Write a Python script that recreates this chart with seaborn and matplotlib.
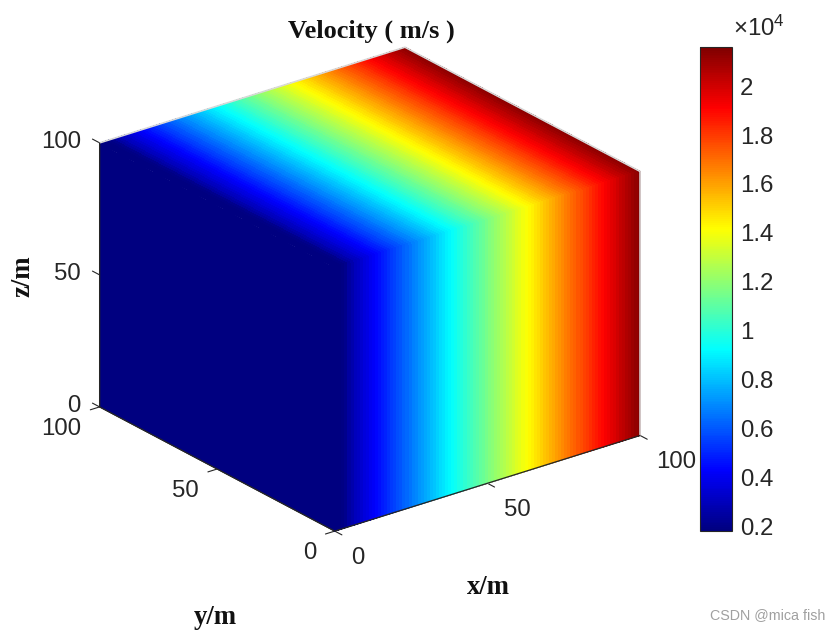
import numpy as np
import matplotlib
matplotlib.use('Agg')  # no display
import matplotlib.pyplot as plt
from matplotlib.cm import ScalarMappable
from matplotlib.colors import LinearSegmentedColormap, Normalize
from matplotlib.ticker import FuncFormatter
import seaborn as sns

x_stations = np.arange(0, 101)
velocity = [1800, 1830, 1900, 2100, 2450, 2690, 2990, 3190, 3380, 3580,
            3780, 3980, 4180, 4370, 4570, 4770, 4970, 5170, 5360, 5560,
            5760, 5960, 6160, 6350, 6550, 6750, 6950, 7150, 7340, 7540,
            7740, 7940, 8140, 8330, 8530, 8730, 8930, 9130, 9320, 9520,
            9720, 9920, 10120, 10310, 10510, 10710, 10910, 11110, 11300, 11500,
            11700, 11900, 12100, 12290, 12490, 12690, 12890, 13090, 13280, 13480,
            13680, 13880, 14080, 14270, 14470, 14670, 14870, 15070, 15260, 15460,
            15660, 15860, 16060, 16250, 16450, 16650, 16850, 17050, 17240, 17440,
            17640, 17840, 18040, 18230, 18430, 18630, 18830, 19030, 19220, 19420,
            19620, 19820, 20020, 20210, 20410, 20610, 20810, 21010, 21200, 21400,
            21600]
axis_ticks = [0, 50, 100]
cbar_ticks = [2000, 4000, 6000, 8000, 10000, 12000, 14000, 16000, 18000, 20000]
v_range = (1800, 21600)

sns.set_theme(style='white', rc={'xtick.bottom': True, 'ytick.left': True})
plt.rcParams['font.family'] = ['Liberation Sans', 'DejaVu Sans']
plt.rcParams['mathtext.default'] = 'regular'

# MATLAB flavour of jet: matplotlib's own has its yellow and red slightly later
cmap = LinearSegmentedColormap.from_list('matlab_jet', [
    (0, (0, 0, 0.5)), (0.125, (0, 0, 1)), (0.375, (0, 1, 1)),
    (0.625, (1, 1, 0)), (0.875, (1, 0, 0)), (1, (0.5, 0, 0))], N=256)
norm = Normalize(*v_range)
line_color = '#262626'
serif = {'family': 'Liberation Serif', 'weight': 'bold', 'color': '#111111'}

fig = plt.figure(figsize=(8.4, 6.3), dpi=100)

size = 0.98
ax = fig.add_axes([361.5 / 840 - size * 630 / 840 / 2, 1 - 297.5 / 630 - size / 2,
                   size * 630 / 840, size], projection='3d', computed_zorder=False)
ax.set_proj_type('ortho')
ax.view_init(elev=24, azim=-127.6)
ax.set_box_aspect((1, 1, 0.75), zoom=0.97)
ax.patch.set_alpha(0)

v = np.array(velocity, dtype=float)
xs = x_stations
lo, hi = xs[0], xs[-1]

# front face (y = 0) and top face carry the x profile, left face is x = 0
X, Z = np.meshgrid(xs, [lo, hi])
colors = cmap(norm(np.tile(v, (2, 1))))
ax.plot_surface(X, np.full_like(X, lo), Z, facecolors=colors, rstride=1, cstride=1,
                shade=False, linewidth=0, antialiased=False, zorder=1)
X, Y = np.meshgrid(xs, [lo, hi])
ax.plot_surface(X, Y, np.full_like(X, hi), facecolors=colors, rstride=1, cstride=1,
                shade=False, linewidth=0, antialiased=False, zorder=1)
Y, Z = np.meshgrid([lo, hi], [lo, hi])
ax.plot_surface(np.full_like(Y, lo), Y, Z, facecolors=cmap(norm(np.full((2, 2), v[0]))),
                rstride=1, cstride=1, shade=False, linewidth=0, antialiased=False, zorder=1)

# light box edges behind the cube, dark axis edges in front of it
ax.plot([lo, lo, hi, hi, hi], [hi, hi, hi, lo, lo], [hi, hi, hi, hi, lo],
        color='#d9d9d9', lw=1.2, zorder=2)
ax.plot([lo, lo, lo, hi], [hi, hi, lo, lo], [hi, lo, lo, lo], color=line_color, lw=0.9, zorder=3)

ax.set_xlim(lo, hi)
ax.set_ylim(lo, hi)
ax.set_zlim(lo, hi)
ax.set_xticks(axis_ticks)
ax.set_yticks(axis_ticks)
ax.set_zticks(axis_ticks)
ax.grid(False)
for axis in (ax.xaxis, ax.yaxis, ax.zaxis):
    axis.set_pane_color((1, 1, 1, 0))
    axis.line.set_color(line_color)
    axis.line.set_linewidth(0.8)
    axis._axinfo['tick']['color'] = line_color
    axis._axinfo['tick']['linewidth'] = {True: 0.8, False: 0.5}
    # the "inward" side points away from the cube on these two axes
    axis._axinfo['tick']['inward_factor'] = 0.38
    axis._axinfo['tick']['outward_factor'] = 0.0

# z ticks run along y in the reference, not along x
ax.zaxis._get_tickdir = lambda position: 1
ax.zaxis._axinfo['tick']['inward_factor'] = 0.0
ax.zaxis._axinfo['tick']['outward_factor'] = 0.38

ax.tick_params(labelsize=17.3, labelcolor=line_color, pad=6)
ax.xaxis.set_tick_params(pad=8)
ax.zaxis.set_tick_params(pad=0)
for label in ax.get_zticklabels():
    label.set_ha('right')
    label.set_va('center')
for label in ax.get_yticklabels():
    label.set_ha('right')
    label.set_va('center')
for label in ax.get_xticklabels():
    label.set_ha('left')
    label.set_va('center')

# colour bar, same jet scale
cax = fig.add_axes([700 / 840, 1 - 531 / 630, 31.5 / 840, 484 / 630])
cbar = fig.colorbar(ScalarMappable(norm=norm, cmap=cmap), cax=cax)
cbar.set_ticks(cbar_ticks)
cbar.ax.yaxis.set_major_formatter(FuncFormatter(lambda val, pos: f'{val / 10000:g}'))
cbar.ax.tick_params(direction='in', length=3.5, width=0.6, color=line_color, right=True, left=False,
                    labelsize=17.3, labelcolor=line_color, pad=6)
cbar.outline.set_edgecolor(line_color)
cbar.outline.set_linewidth(0.8)

fig.text(733 / 840, 1 - 36 / 630, '×10$^{4}$', fontsize=17.3, color=line_color, va='baseline')
fig.text(371 / 840, 1 - 31 / 630, 'Velocity ( m/s )', fontsize=19, ha='center', va='center', **serif)
fig.text(488 / 840, 1 - 587 / 630, 'x/m', fontsize=19.3, ha='center', va='center', **serif)
fig.text(215 / 840, 1 - 617 / 630, 'y/m', fontsize=19.3, ha='center', va='center', **serif)
fig.text(23 / 840, 1 - 276 / 630, 'z/m', fontsize=19.3, ha='center', va='center', rotation=90, **serif)
fig.text(825 / 840, 1 - 615 / 630, 'CSDN @mica fish', fontsize=10.3, color='#a0a0a0', ha='right', va='center')

fig.savefig('out.png', dpi=100)
plt.close(fig)
